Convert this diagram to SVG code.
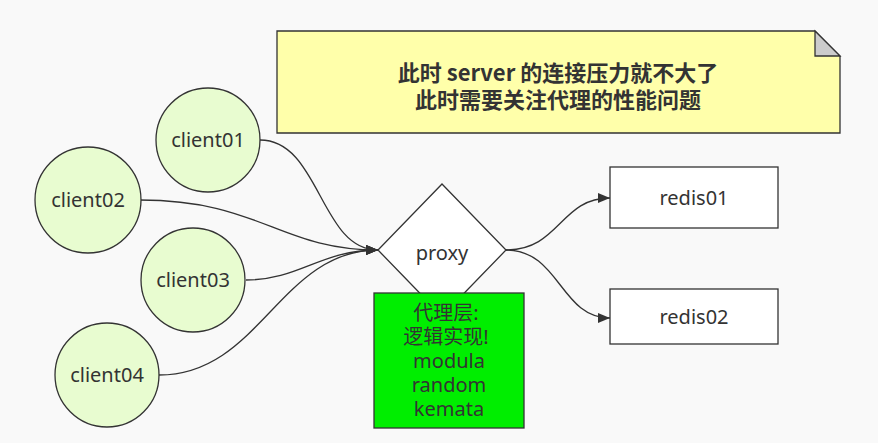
<svg xmlns="http://www.w3.org/2000/svg" width="878" height="443" viewBox="0 0 878 443">
<style>
.lbl{font-family:"Noto Sans","Noto Sans CJK SC",sans-serif;font-size:20px;fill:#333;text-anchor:middle}
.cl{fill:#e8fcd0;stroke:#333;stroke-width:1.3}
.box{fill:#fff;stroke:#333;stroke-width:1.3}
.edge{fill:none;stroke:#333;stroke-width:1.3}
.note{font-family:"Noto Sans CJK SC","Noto Sans",sans-serif;font-size:22px;font-weight:bold;fill:#333;text-anchor:middle}
</style>
<defs>
<marker id="arr" viewBox="0 0 12 10" refX="12" refY="5" markerWidth="12" markerHeight="10" markerUnits="userSpaceOnUse" orient="auto">
<path d="M0,0 L12,5 L0,10 Z" fill="#333"/>
</marker>
</defs>
<rect width="878" height="443" fill="#f9f9f9"/>
<g id="note">
<path d="M277,31 H815 L840,56 V133 H277 Z" fill="#ffffaa" stroke="#333" stroke-width="1.3"/>
<path d="M815,31 V56 H840 Z" fill="#cccccc" stroke="#333" stroke-width="1.3"/>
<text class="note" x="558" y="81">此时 server 的连接压力就不大了</text>
<text class="note" x="558" y="108">此时需要关注代理的性能问题</text>
</g>
<g id="connectors">
<path class="edge" d="M260,140 C320,140 320,250 378,250" marker-end="url(#arr)"/>
<path class="edge" d="M140,200 C260,200 280,250 378,250" marker-end="url(#arr)"/>
<path class="edge" d="M246,280 C300,280 320,250 378,250" marker-end="url(#arr)"/>
<path class="edge" d="M159,375 C260,375 280,250 378,250" marker-end="url(#arr)"/>
<path class="edge" d="M506,250 C560,250 560,198 610,198" marker-end="url(#arr)"/>
<path class="edge" d="M506,250 C560,250 560,318 610,318" marker-end="url(#arr)"/>
</g>
<g id="client01"><circle class="cl" cx="208" cy="140" r="52"/><text class="lbl" x="208" y="147">client01</text></g>
<g id="client02"><circle class="cl" cx="88" cy="200" r="53"/><text class="lbl" x="88" y="207">client02</text></g>
<g id="client03"><circle class="cl" cx="193" cy="280" r="52"/><text class="lbl" x="193" y="287">client03</text></g>
<g id="client04"><circle class="cl" cx="107" cy="375" r="52"/><text class="lbl" x="107" y="382">client04</text></g>
<g id="proxy"><path class="box" d="M442,184 L506,250 L442,316 L378,250 Z"/><text class="lbl" x="442" y="260">proxy</text></g>
<g id="logic">
<rect x="374" y="293" width="150" height="135" fill="#00ee00" stroke="#333" stroke-width="1.3"/>
<text class="lbl" x="446" y="320">代理层:</text>
<text class="lbl" x="446" y="344">逻辑实现!</text>
<text class="lbl" x="449" y="368">modula</text>
<text class="lbl" x="449" y="392">random</text>
<text class="lbl" x="449" y="416">kemata</text>
</g>
<g id="redis01"><rect class="box" x="610" y="167" width="168" height="61"/><text class="lbl" x="694" y="205">redis01</text></g>
<g id="redis02"><rect class="box" x="610" y="289" width="168" height="55"/><text class="lbl" x="694" y="324">redis02</text></g>
</svg>
